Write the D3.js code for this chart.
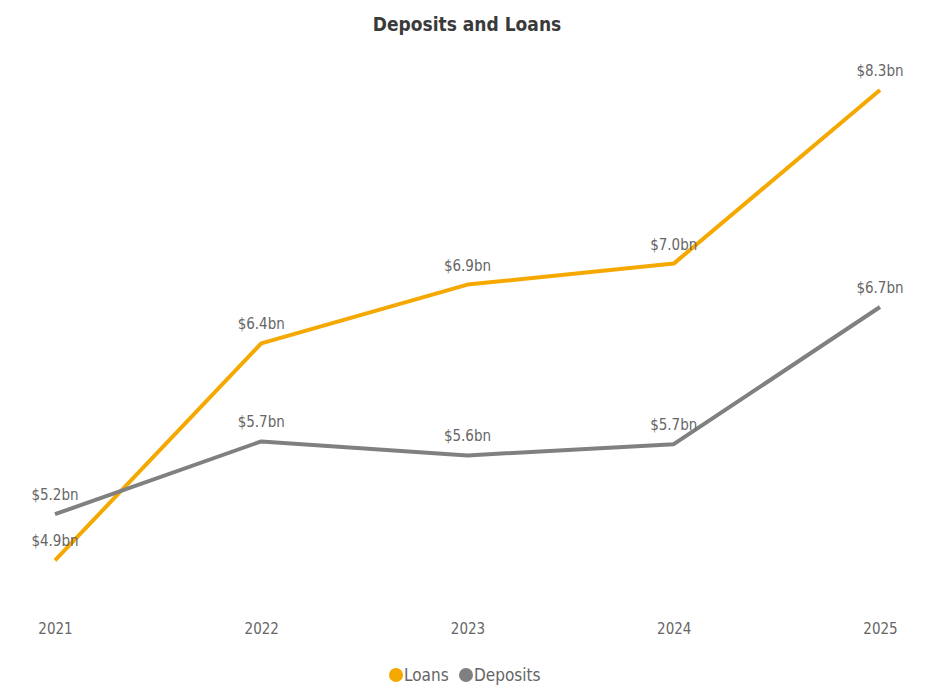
<!DOCTYPE html>
<html>
<head>
<meta charset="utf-8">
<script src="https://cdn.jsdelivr.net/npm/d3@7"></script>
<style>
  body { margin: 0; background: #fff; }
  svg { display: block; }
  .lbl { font-family: "Liberation Sans Narrow", "DejaVu Sans Condensed", sans-serif; fill: #666; }
</style>
</head>
<body>
<div class="chart"></div>
<script>
// Data
const years = ["2021", "2022", "2023", "2024", "2025"];
const loans = [4.89, 6.44, 6.86, 7.01, 8.25];
const deposits = [5.22, 5.74, 5.64, 5.72, 6.70];
const seriesNames = ["Loans", "Deposits"];
const seriesColors = ["#F5A800", "#808080"];

const width = 925, height = 687;

const svg = d3.select(".chart")
  .append("svg")
  .attr("width", width)
  .attr("height", height);

// Scales
const xScale = d3.scalePoint()
  .domain(years)
  .range([55, 880]);

const yScale = d3.scaleLinear()
  .domain([4.5, 8.5])
  .range([615, 55]);

// Title
svg.append("text")
  .attr("x", 467)
  .attr("y", 31)
  .attr("text-anchor", "middle")
  .style("font-family", "'DejaVu Sans Condensed', sans-serif")
  .style("font-weight", "bold")
  .style("font-size", "19px")
  .style("fill", "#3a3a3a")
  .text("Deposits and Loans");

// X axis (labels only)
const xAxis = svg.append("g")
  .attr("transform", "translate(0,623)")
  .call(d3.axisBottom(xScale).tickSize(0).tickPadding(0));
xAxis.select(".domain").remove();
xAxis.selectAll("text")
  .attr("class", "lbl")
  .style("font-size", "15px")
  .attr("dy", "0.71em");

// Lines
const line = d3.line()
  .x((d, i) => xScale(years[i]))
  .y(d => yScale(d));

const series = [loans, deposits];
series.forEach((vals, k) => {
  svg.append("path")
    .datum(vals)
    .attr("fill", "none")
    .attr("stroke", seriesColors[k])
    .attr("stroke-width", 4)
    .attr("stroke-linejoin", "round")
    .attr("d", line);
});

// Data labels
series.forEach((vals, k) => {
  svg.selectAll(`.dl${k}`)
    .data(vals)
    .join("text")
      .attr("class", `lbl dl${k}`)
      .attr("x", (d, i) => xScale(years[i]))
      .attr("y", d => yScale(d) - 14)
      .attr("text-anchor", "middle")
      .style("font-size", "15px")
      .text(d => `$${d.toFixed(1)}bn`);
});

// Legend
const legendX = [396, 466];
seriesNames.forEach((name, k) => {
  svg.append("circle")
    .attr("cx", legendX[k])
    .attr("cy", 675)
    .attr("r", 7)
    .attr("fill", seriesColors[k]);
  svg.append("text")
    .attr("class", "lbl")
    .attr("x", legendX[k] + 8)
    .attr("y", 681)
    .style("font-size", "17px")
    .text(name);
});
</script>
</body>
</html>
